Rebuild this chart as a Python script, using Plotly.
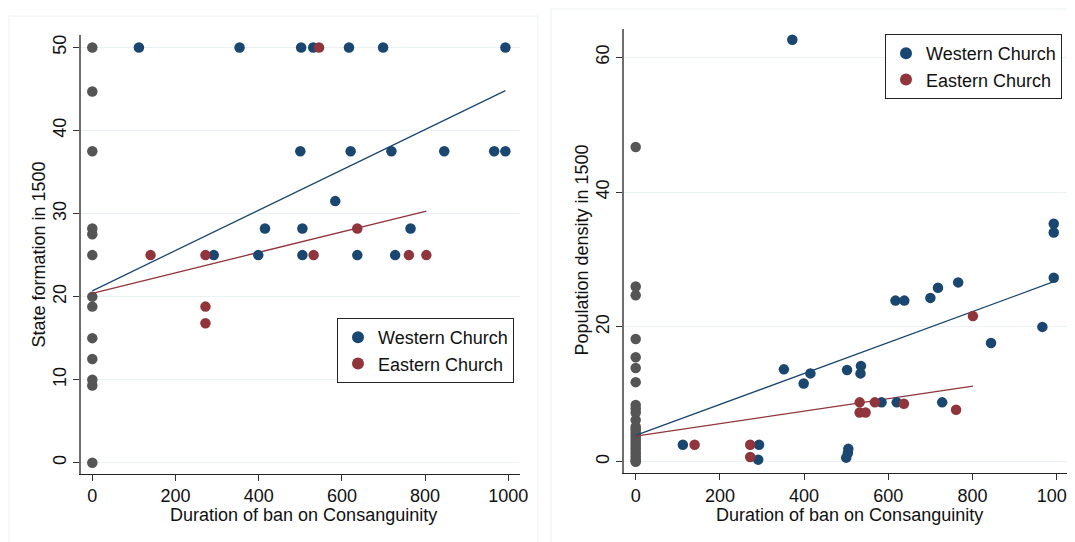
import plotly.graph_objects as go
from plotly.subplots import make_subplots

# ---- left panel: state formation in 1500 ----
state_none_x = [0] * 13
state_none_y = [50, 44.7, 37.5, 28.2, 27.5, 25, 20, 18.8, 15, 12.5, 10, 9.3, 0]

state_west_x = [112, 354, 502, 531, 617, 699, 993,
                500, 621, 719, 846, 966, 993,
                584,
                415, 505, 765,
                292, 399, 505, 637, 728]
state_west_y = [50, 50, 50, 50, 50, 50, 50,
                37.5, 37.5, 37.5, 37.5, 37.5, 37.5,
                31.5,
                28.2, 28.2, 28.2,
                25, 25, 25, 25, 25]

state_east_x = [545, 637, 140, 272, 532, 761, 803, 272, 272]
state_east_y = [50, 28.2, 25, 25, 25, 25, 25, 18.8, 16.8]

state_fit_west_x = [0, 993]
state_fit_west_y = [20.7, 44.8]
state_fit_east_x = [0, 803]
state_fit_east_y = [20.4, 30.3]

# ---- right panel: population density in 1500 ----
pop_none_y = [46.7, 26.0, 24.7, 18.2, 15.5, 13.9, 11.8, 8.4, 7.9, 7.3, 6.2, 5.2,
              4.8, 4.4, 4.0, 3.6, 3.2, 2.8, 2.4, 2.0, 1.6, 1.2, 0.8, 0.4, 0.1, 0.0]
pop_none_x = [0] * len(pop_none_y)

pop_west_x = [372, 993, 993, 993, 766, 718, 700, 617, 638, 966, 844,
              352, 535, 534, 415, 502, 399, 584, 620, 728,
              112, 293, 291, 505, 504, 500]
pop_west_y = [62.6, 35.3, 34.0, 27.3, 26.6, 25.8, 24.3, 23.9, 23.9, 20.0, 17.6,
              13.7, 14.2, 13.1, 13.1, 13.6, 11.6, 8.8, 8.8, 8.8,
              2.5, 2.5, 0.3, 1.9, 1.3, 0.6]

pop_east_x = [801, 532, 568, 637, 532, 546, 761, 140, 272, 272]
pop_east_y = [21.6, 8.8, 8.8, 8.6, 7.3, 7.3, 7.7, 2.5, 2.5, 0.7]

pop_fit_west_x = [0, 993]
pop_fit_west_y = [3.9, 26.7]
pop_fit_east_x = [0, 801]
pop_fit_east_y = [3.8, 11.2]

NAVY = "#1a476f"
MAROON = "#90353b"
GRAY = "#555555"
GRID = "#eaf2f3"
FONT = "Arial, Liberation Sans, sans-serif"

# the page body adds an 8px margin, so the figure is 8px smaller each way
W, H = 1067, 534


def fx(px):
    return (px - 8) / W


def fy(py):
    return 1 - (py - 8) / H


fig = make_subplots(rows=1, cols=2)


def add_panel(col, nx, ny, wx, wy, ex, ey, fwx, fwy, fex, fey, legend):
    fig.add_trace(go.Scatter(x=nx, y=ny, mode="markers", showlegend=False,
                             marker=dict(color=GRAY, size=10.5)), row=1, col=col)
    fig.add_trace(go.Scatter(x=fwx, y=fwy, mode="lines", showlegend=False,
                             line=dict(color=NAVY, width=1.3)), row=1, col=col)
    fig.add_trace(go.Scatter(x=fex, y=fey, mode="lines", showlegend=False,
                             line=dict(color=MAROON, width=1.3)), row=1, col=col)
    fig.add_trace(go.Scatter(x=wx, y=wy, mode="markers", name="Western Church",
                             legend=legend, marker=dict(color=NAVY, size=10.5)),
                  row=1, col=col)
    fig.add_trace(go.Scatter(x=ex, y=ey, mode="markers", name="Eastern Church",
                             legend=legend, marker=dict(color=MAROON, size=10.5)),
                  row=1, col=col)


add_panel(1, state_none_x, state_none_y, state_west_x, state_west_y,
          state_east_x, state_east_y, state_fit_west_x, state_fit_west_y,
          state_fit_east_x, state_fit_east_y, "legend")
add_panel(2, pop_none_x, pop_none_y, pop_west_x, pop_west_y,
          pop_east_x, pop_east_y, pop_fit_west_x, pop_fit_west_y,
          pop_fit_east_x, pop_fit_east_y, "legend2")

xcommon = dict(tickmode="array", tickvals=[0, 200, 400, 600, 800, 1000],
               ticks="outside", ticklen=6, tickcolor="#333", showgrid=False,
               zeroline=False, showline=True, linecolor="#222", linewidth=1.3,
               tickfont=dict(size=18, color="#111"), automargin=False,
               ticklabeloverflow="allow")
ycommon = dict(ticks="outside", ticklen=6, tickcolor="#333", tickangle=-90,
               showgrid=True, gridcolor=GRID, gridwidth=1, zeroline=False,
               showline=True, linecolor="#6e6e6e", linewidth=1.5,
               tickfont=dict(size=18, color="#111"), automargin=False)

fig.update_xaxes(xcommon)
fig.update_yaxes(ycommon)
fig.update_layout(
    xaxis=dict(domain=[fx(81), fx(519.7)], range=[-27.2, 1027.4]),
    yaxis=dict(domain=[fy(473.7), fy(35)], range=[-1.32, 51.5],
               tickvals=[0, 10, 20, 30, 40, 50]),
    xaxis2=dict(domain=[fx(623.7), fx(1068.7)], range=[-28.5, 1028.5]),
    yaxis2=dict(domain=[fy(473), fy(29)], range=[-1.68, 64.2],
                tickvals=[0, 20, 40, 60]),
)

legend_style = dict(bgcolor="white", bordercolor="#222", borderwidth=1,
                    font=dict(size=18, color="#111", family=FONT),
                    xanchor="right", yanchor="top", itemsizing="constant")
fig.update_layout(
    legend=dict(legend_style, x=fx(514), y=fy(318)),
    legend2=dict(legend_style, x=fx(1062), y=fy(34)),
)

# axis titles
for x, y, text, angle in [
    (38.6, 255, "State formation in 1500", -90),
    (581.6, 250, "Population density in 1500", -90),
    (303, 515, "Duration of ban on Consanguinity", 0),
    (849, 515, "Duration of ban on Consanguinity", 0),
]:
    fig.add_annotation(x=fx(x), y=fy(y), xref="paper", yref="paper",
                       text=text, textangle=angle, showarrow=False,
                       xanchor="center", yanchor="middle",
                       font=dict(size=18, color="#111", family=FONT))

# faint outer frames of each graph region
fig.add_shape(type="rect", xref="paper", yref="paper",
              x0=fx(9), x1=fx(538), y0=fy(560), y1=fy(16),
              line=dict(color=GRID, width=1))
fig.add_shape(type="rect", xref="paper", yref="paper",
              x0=fx(551), x1=fx(1100), y0=fy(560), y1=fy(9),
              line=dict(color=GRID, width=1))

fig.update_layout(
    width=W, height=H,
    margin=dict(l=0, r=0, t=0, b=0, autoexpand=False),
    paper_bgcolor="white", plot_bgcolor="white",
    font=dict(family=FONT, size=18, color="#111"),
)

fig.write_html("out.html")
